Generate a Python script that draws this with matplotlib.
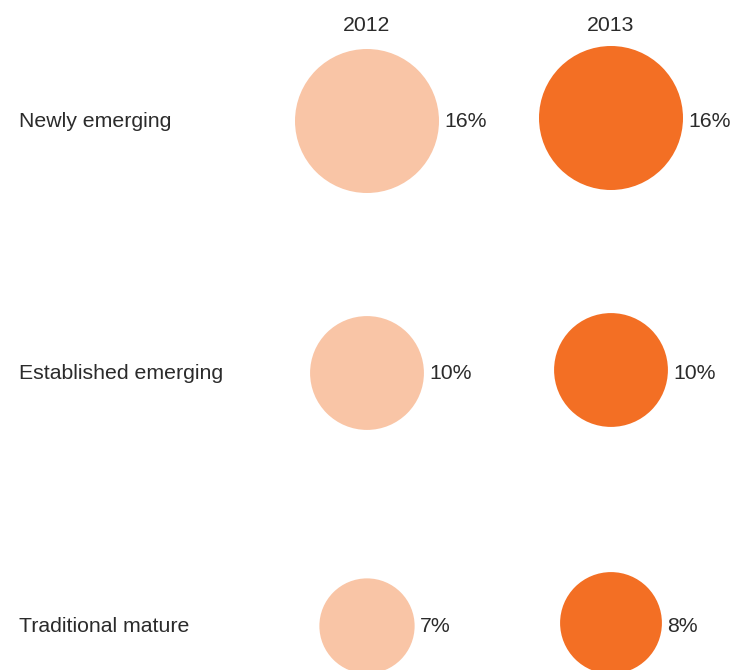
import matplotlib.pyplot as plt
from matplotlib.patches import Circle
import numpy as np

categories = ["Newly emerging", "Established emerging", "Traditional mature"]
years = ["2012", "2013"]
values_2012 = [16, 10, 7]
values_2013 = [16, 10, 8]

colors = ["#f9c5a6", "#f36f24"]
text_color = "#2b2b2b"

plt.rcParams['font.family'] = ['Liberation Sans', 'DejaVu Sans']

fig = plt.figure(figsize=(7.31, 6.70), dpi=100)
ax = fig.add_axes([0, 0, 1, 1])
ax.set_xlim(0, 731)
ax.set_ylim(670, 0)
ax.set_aspect('equal')
ax.axis('off')

col_x = [367, 611]
col_dy = [1, -2]      # 2013 column sits a touch higher
row_y = [120, 372, 625]
max_r = 72  # radius of the 16% circle in pixels
fs = 15.3

for j, year in enumerate(years):
    ax.text(col_x[j], 31, year, ha='center', va='baseline', fontsize=fs, color=text_color)

for i, cat in enumerate(categories):
    ax.text(19, row_y[i] + 7, cat, ha='left', va='baseline', fontsize=fs, color=text_color)
    for j, vals in enumerate([values_2012, values_2013]):
        r = max_r * np.sqrt(vals[i] / 16.0)
        ax.add_patch(Circle((col_x[j], row_y[i] + col_dy[j]), r,
                            facecolor=colors[j], edgecolor='none'))
        ax.text(col_x[j] + r + 5, row_y[i] + 7, str(vals[i]) + "%", ha='left', va='baseline',
                fontsize=fs, color=text_color)

fig.savefig("out.png", dpi=100)
